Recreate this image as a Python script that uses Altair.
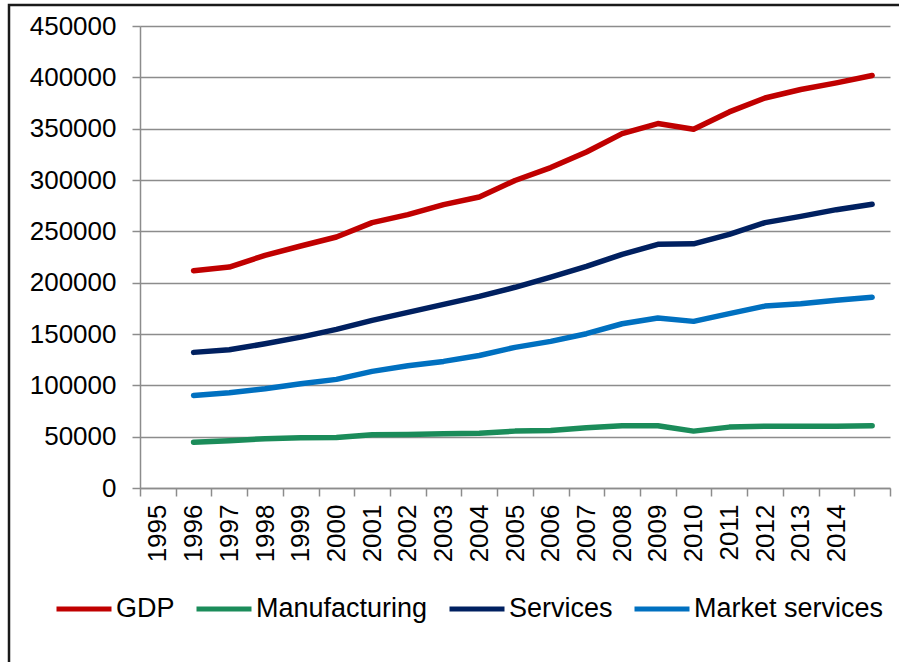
import altair as alt
import pandas as pd

# Category axis labels (last category carries no label in the source)
categories = ["1995", "1996", "1997", "1998", "1999", "2000", "2001", "2002", "2003",
              "2004", "2005", "2006", "2007", "2008", "2009", "2010", "2011", "2012",
              "2013", "2014", "2015"]
point_categories = ["1996", "1997", "1998", "1999", "2000", "2001", "2002", "2003",
                    "2004", "2005", "2006", "2007", "2008", "2009", "2010", "2011",
                    "2012", "2013", "2014", "2015"]

series_names = ["GDP", "Manufacturing", "Services", "Market services"]
series_colors = ["#c00000", "#1b8c5a", "#002060", "#0070c0"]

gdp = [211700, 215200, 226600, 235700, 244500, 258500, 266300, 276000, 283400, 299500,
       312100, 327300, 345200, 355000, 349400, 366300, 379900, 388100, 394600, 401800]
manufacturing = [44600, 46000, 48000, 48900, 49200, 51800, 52100, 52800, 53400, 55400,
                 56000, 58700, 60600, 60600, 55400, 59300, 60200, 60200, 60200, 60600]
services = [132100, 134700, 140500, 147000, 154500, 163300, 171100, 178900, 186700, 195500,
            205500, 215900, 227600, 237300, 237800, 247100, 258500, 264600, 271100, 276300]
market_services = [90200, 92800, 96700, 101600, 105800, 113600, 119100, 123300, 129100, 137000,
                   142800, 150300, 160000, 165500, 162300, 169800, 177200, 179500, 182800, 185700]

y_ticks = [0, 50000, 100000, 150000, 200000, 250000, 300000, 350000, 400000, 450000]

rows = []
for name, vals in zip(series_names, [gdp, manufacturing, services, market_services]):
    for cat, v in zip(point_categories, vals):
        rows.append({"year": cat, "value": v, "series": name})
df = pd.DataFrame(rows)

FONT = "Liberation Sans"
one = pd.DataFrame({"a": [0]})

# outer gray strip (drawn as a thick stroke outside the chart frame)
outer = alt.Chart(one).mark_rect(
    fill=None, filled=False, stroke="#e3e7ec", strokeWidth=14
).encode(
    x=alt.value(-147), x2=alt.value(780),
    y=alt.value(-33), y2=alt.value(680),
)
# thin dark frame
frame = alt.Chart(one).mark_rect(
    fill=None, filled=False, stroke="#1a1a1a", strokeWidth=2.5
).encode(
    x=alt.value(-131), x2=alt.value(770),
    y=alt.value(-21), y2=alt.value(660),
)

lines = alt.Chart(df).mark_line(
    strokeWidth=5.5, strokeCap="round", strokeJoin="round"
).encode(
    x=alt.X("year:N", sort=categories,
            scale=alt.Scale(domain=categories, paddingInner=0, paddingOuter=0),
            axis=alt.Axis(title=None, labelAngle=270, labelAlign="right",
                          labelBaseline="middle", labelFontSize=26, labelFont=FONT,
                          labelColor="black", labelPadding=8, tickBand="extent",
                          tickSize=8, tickColor="#8c8c8c", tickWidth=1.5,
                          domainColor="#8c8c8c", domainWidth=1.5, grid=False,
                          labelExpr="datum.value == '2015' ? '' : datum.value")),
    y=alt.Y("value:Q",
            scale=alt.Scale(domain=[0, 450000], nice=False, zero=True),
            axis=alt.Axis(title=None, values=y_ticks, format="d", labelFontSize=26,
                          labelFont=FONT, labelColor="black", labelPadding=16,
                          tickSize=8, tickColor="#8c8c8c", tickWidth=1.5,
                          domainColor="#8c8c8c", domainWidth=1.5,
                          grid=True, gridColor="#8c8c8c", gridWidth=1.5)),
    color=alt.Color("series:N",
                    scale=alt.Scale(domain=series_names, range=series_colors),
                    sort=series_names,
                    legend=alt.Legend(title=None, orient="none", direction="horizontal",
                                      legendX=-86, legendY=553,
                                      symbolType="stroke", symbolSize=3025,
                                      symbolStrokeWidth=5, labelFontSize=27,
                                      labelFont=FONT, labelColor="black",
                                      labelOffset=2, columnPadding=11,
                                      labelLimit=400, columns=4)),
)

chart = alt.layer(outer, frame, lines).properties(
    width=750, height=462,
    padding={"left": 140, "top": 26, "right": 9, "bottom": 174},
    autosize=alt.AutoSizeParams(type="none"),
    background="white",
).configure_view(stroke=None)

chart.save("out.html", embed_options={"renderer": "svg", "actions": False})
